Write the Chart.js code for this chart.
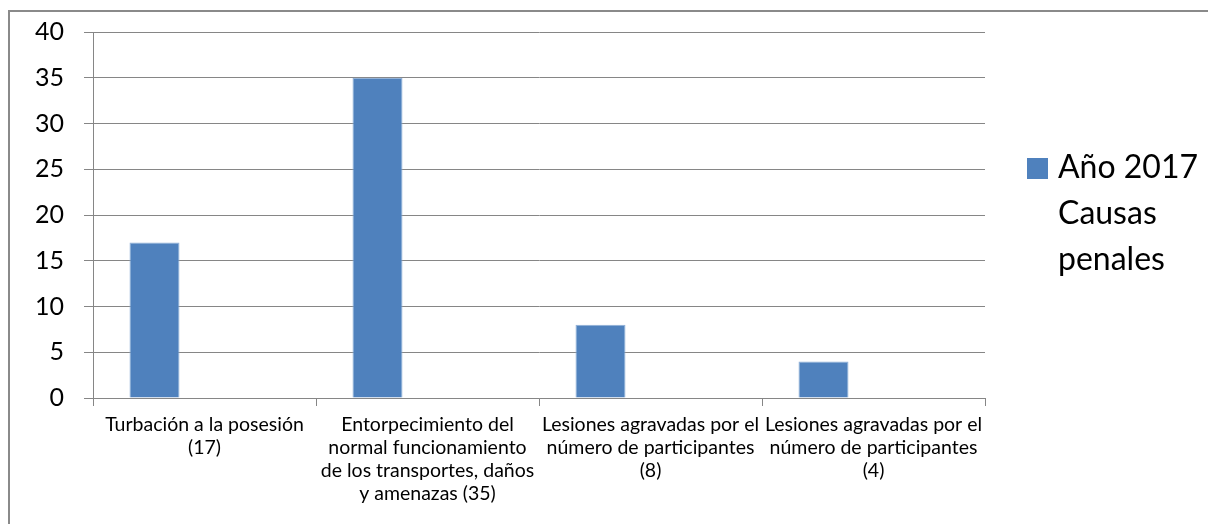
<!DOCTYPE html>
<html>
<head>
<meta charset="utf-8">
<script src="https://cdn.jsdelivr.net/npm/chart.js@4/dist/chart.umd.min.js"></script>
<style>
  html, body { margin: 0; padding: 0; background: #fff; }
  #wrap { position: relative; width: 1208px; height: 524px; }
</style>
</head>
<body>
<div id="wrap"><canvas id="c" width="1208" height="524"></canvas></div>
<script>
const categories = [
  ["Turbación a la posesión", "(17)"],
  ["Entorpecimiento del", "normal funcionamiento", "de los transportes, daños", "y amenazas (35)"],
  ["Lesiones agravadas por el", "número de participantes", "(8)"],
  ["Lesiones agravadas por el", "número de participantes", "(4)"]
];
const seriesName = "Año 2017 Causas penales";
const causasPenales = [17, 35, 8, 4];
const emptySeries2 = [null, null, null, null];
const emptySeries3 = [null, null, null, null];
const yTicks = [0, 5, 10, 15, 20, 25, 30, 35, 40];

const FONT = "Lato, 'Open Sans', sans-serif";
const GRID = '#868686';
const BAR = '#4F81BD';

const frame = {
  id: 'frame',
  beforeDraw(chart) {
    const ctx = chart.ctx;
    ctx.save();
    ctx.fillStyle = '#fff';
    ctx.fillRect(0, 0, chart.width, chart.height);
    ctx.strokeStyle = '#8a8a8a';
    ctx.lineWidth = 2;
    ctx.strokeRect(9, 11, 1400, 800);
    ctx.restore();
  }
};

const sideLegend = {
  id: 'sideLegend',
  afterDraw(chart) {
    const ctx = chart.ctx;
    const ds = chart.data.datasets[0];
    const x0 = chart.chartArea.right + 42;
    const textX = x0 + 31;
    const maxW = chart.width - textX - 2;
    ctx.save();
    ctx.font = "32px " + FONT;
    const words = ds.label.split(' ');
    const lines = [];
    let cur = '';
    for (const w of words) {
      const t = cur ? cur + ' ' + w : w;
      if (cur && ctx.measureText(t).width > maxW) { lines.push(cur); cur = w; }
      else cur = t;
    }
    if (cur) lines.push(cur);
    const lh = 46;
    const firstBase = 178;
    ctx.fillStyle = ds.backgroundColor;
    ctx.fillRect(x0, firstBase - 20, 21, 21);
    ctx.fillStyle = '#000';
    ctx.textBaseline = 'alphabetic';
    ctx.textAlign = 'left';
    lines.forEach((l, i) => ctx.fillText(l, textX, firstBase + i * lh));
    ctx.restore();
  }
};

new Chart(document.getElementById('c'), {
  type: 'bar',
  data: {
    labels: categories,
    datasets: [
      { label: seriesName, data: causasPenales, backgroundColor: BAR, borderColor: '#8fb0d8', borderWidth: 1 },
      { label: 'Serie 2', data: emptySeries2, backgroundColor: '#C0504D' },
      { label: 'Serie 3', data: emptySeries3, backgroundColor: '#9BBB59' }
    ]
  },
  options: {
    responsive: false,
    animation: false,
    events: [],
    categoryPercentage: 150 / 223,
    barPercentage: 1,
    layout: { padding: { top: 32, right: 223, bottom: 0, left: 0 } },
    plugins: {
      legend: { display: false },
      tooltip: { enabled: false },
      title: { display: false }
    },
    scales: {
      x: {
        offset: true,
        afterFit(scale) { scale.height = 126; scale.paddingLeft = 0; scale.paddingRight = 0; },
        grid: { display: true, drawOnChartArea: false, drawTicks: true, tickLength: 8, color: GRID, offset: true },
        border: { display: true, color: GRID, width: 1 },
        ticks: {
          color: '#000',
          font: { family: FONT, size: 19.5, lineHeight: 23 / 19.5 },
          maxRotation: 0, minRotation: 0, autoSkip: false, padding: 7
        }
      },
      y: {
        min: 0, max: 40,
        afterFit(scale) { scale.width = 93; scale.paddingTop = 0; scale.paddingBottom = 0; },
        afterBuildTicks(scale) { scale.ticks = yTicks.map(v => ({ value: v })); },
        grid: { color: GRID, tickLength: 9, lineWidth: 1 },
        border: { display: true, color: GRID, width: 1 },
        ticks: {
          color: '#000',
          font: { family: FONT, size: 25 },
          padding: 20
        }
      }
    }
  },
  plugins: [frame, sideLegend]
});
</script>
</body>
</html>
